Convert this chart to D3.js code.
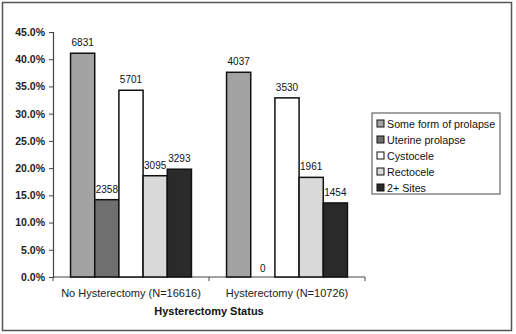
<!DOCTYPE html>
<html><head><meta charset="utf-8">
<script src="https://cdn.jsdelivr.net/npm/d3@7"></script>
<style>body{margin:0;background:#fff;}svg{display:block;font-family:Arial,"Liberation Sans",sans-serif;}</style>
</head><body>
<svg id="c" width="516" height="334"></svg>
<script>
const groups = ["No Hysterectomy (N=16616)", "Hysterectomy (N=10726)"];
const seriesNames = ["Some form of prolapse", "Uterine prolapse", "Cystocele", "Rectocele", "2+ Sites"];
const seriesColors = ["#a3a3a3", "#6f6f6f", "#ffffff", "#d9d9d9", "#2a2a2a"];
// percentages per group (bar heights)
const pctNoHyst = [41.1, 14.2, 34.3, 18.6, 19.8];
const pctHyst = [37.6, 0, 32.9, 18.3, 13.6];
// counts shown above bars
const countNoHyst = [6831, 2358, 5701, 3095, 3293];
const countHyst = [4037, 0, 3530, 1961, 1454];
const yTicks = [0, 5, 10, 15, 20, 25, 30, 35, 40, 45];

const svg = d3.select("#c");
// outer frame
svg.append("rect").attr("x", 2.5).attr("y", 2.5).attr("width", 509).attr("height", 328)
  .attr("fill", "none").attr("stroke", "#555").attr("stroke-width", 1.5);

const x0 = d3.scaleBand().domain(groups).range([53, 365]).paddingInner(0.225).paddingOuter(0.1125);
const x1 = d3.scaleBand().domain(seriesNames).range([0, x0.bandwidth()]);
const y = d3.scaleLinear().domain([0, 45]).range([277, 32]);

const data = [
  {g: groups[0], pct: pctNoHyst, cnt: countNoHyst},
  {g: groups[1], pct: pctHyst, cnt: countHyst}
];

// y axis
const yAxis = d3.axisLeft(y).tickValues(yTicks).tickSize(4).tickFormat(d => d.toFixed(1) + "%");
const ya = svg.append("g").attr("transform", "translate(53,0)").call(yAxis);
ya.select(".domain").attr("stroke", "#444").attr("stroke-width", 1.2);
ya.selectAll(".tick line").attr("stroke", "#444");
ya.selectAll(".tick text").attr("font-size", "10.5px").attr("font-weight", "bold").attr("fill", "#222").attr("x", -8);

// x axis
const xa = svg.append("g").attr("transform", "translate(0,277)");
xa.append("line").attr("x1", 53).attr("x2", 365).attr("stroke", "#444").attr("stroke-width", 1.2);
const bounds = [53, (x0(groups[0]) + x0.bandwidth() + x0(groups[1])) / 2, 365];
xa.selectAll("line.tk").data(bounds).join("line").attr("class", "tk")
  .attr("x1", d => d).attr("x2", d => d).attr("y1", 0).attr("y2", 4).attr("stroke", "#444");
xa.selectAll("text").data(groups).join("text")
  .attr("x", d => x0(d) + x0.bandwidth() / 2).attr("y", 20)
  .attr("text-anchor", "middle").attr("font-size", "11px").attr("fill", "#222").text(d => d);

svg.append("text").attr("x", 209).attr("y", 315).attr("text-anchor", "middle")
  .attr("font-size", "11px").attr("font-weight", "bold").attr("fill", "#111").text("Hysterectomy Status");

// bars
const gs = svg.selectAll("g.grp").data(data).join("g").attr("class", "grp")
  .attr("transform", d => `translate(${x0(d.g)},0)`);
gs.selectAll("rect").data(d => d.pct.map((v, i) => ({s: seriesNames[i], v, i})))
  .join("rect")
  .attr("x", d => x1(d.s)).attr("width", x1.bandwidth())
  .attr("y", d => y(d.v)).attr("height", d => y(0) - y(d.v))
  .attr("fill", d => seriesColors[d.i]).attr("stroke", "#111").attr("stroke-width", d => d.v > 0 ? 1.5 : 0);
gs.selectAll("text").data(d => d.pct.map((v, i) => ({s: seriesNames[i], v, c: d.cnt[i]})))
  .join("text")
  .attr("x", d => x1(d.s) + x1.bandwidth() / 2).attr("y", d => y(d.v) - (d.v > 0 ? 7 : 5))
  .attr("text-anchor", "middle").attr("font-size", "10px").attr("fill", "#111").text(d => d.c);

// legend
const lg = svg.append("g");
lg.append("rect").attr("x", 372).attr("y", 113).attr("width", 128).attr("height", 81)
  .attr("fill", "#fff").attr("stroke", "#666").attr("stroke-width", 1.2);
const li = lg.selectAll("g.li").data(seriesNames).join("g").attr("class", "li")
  .attr("transform", (d, i) => `translate(377,${123.5 + i * 16})`);
li.append("rect").attr("x", 0).attr("y", -3.5).attr("width", 7).attr("height", 7)
  .attr("fill", (d, i) => seriesColors[i]).attr("stroke", "#111").attr("stroke-width", 1);
li.append("text").attr("x", 10).attr("y", 4).attr("font-size", "10.7px").attr("fill", "#111").text(d => d);
</script>
</body></html>
